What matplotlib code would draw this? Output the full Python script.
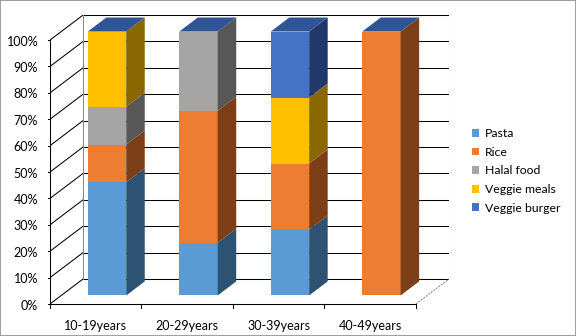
import numpy as np
from matplotlib import pyplot as plt
from matplotlib.patches import Polygon, Patch, Rectangle

# datos (porcentajes)
categorias = ['10-19years', '20-29years', '30-39years', '40-49years']
series = ['Pasta', 'Rice', 'Halal food', 'Veggie meals', 'Veggie burger']
pasta = [42.9, 20.0, 25.0, 0.0]
rice = [14.3, 50.0, 25.0, 100.0]
halal = [14.3, 30.0, 0.0, 0.0]
veggie_meals = [28.5, 0.0, 25.0, 0.0]
veggie_burger = [0.0, 0.0, 25.0, 0.0]
yticks = list(range(0, 101, 10))

color_frente = ['#5B9BD5', '#ED7D31', '#A5A5A5', '#FFC000', '#4472C4']
color_lado = ['#2E5273', '#7C3F17', '#575757', '#8A6700', '#20396A']
color_techo = '#2F5597'

# profundidad del "3D" en unidades de datos
D, DY = 0.362, 9.5
ANCHO = 0.42
F1, F2 = 0.34, 0.56   # posicion y profundidad de la barra dentro del piso

plt.rcParams['font.family'] = ['Lato', 'DejaVu Sans']
fig = plt.figure(figsize=(5.76, 3.36), dpi=100)
fig.patches.append(Rectangle((0, 0), 1, 1, transform=fig.transFigure,
                             fill=False, edgecolor='#8c8c8c', lw=1.2))
ax = fig.add_axes([50/576, 32/336, 399/576, 289/336])
ax.set_xlim(0, 4 + D)
ax.set_ylim(0, 100 + DY)
ax.axis('off')

n = len(categorias)
lw = 0.75
# pared del fondo
for v in yticks:
  ax.plot([D, n + D], [v + DY, v + DY], c='k', lw=lw, zorder=1)
  ax.plot([0, D], [v, v + DY], c='k', lw=lw, zorder=1)
  ax.plot([-0.025, 0], [v, v], c='k', lw=lw, clip_on=False)
  ax.text(-0.13, v - 0.6, f'{v}%', ha='right', va='center', fontsize=9)
ax.plot([0, 0], [0, 100], c='k', lw=lw, zorder=1)
ax.plot([D, D], [DY, 100 + DY], c='#888888', lw=lw, zorder=1)
ax.plot([n + D, n + D], [DY, 100 + DY], c='#888888', lw=lw, zorder=1)
ax.plot([n, n + D], [0, DY], c='#888888', lw=lw, ls=(0, (2, 1)), zorder=1)
ax.plot([0, n], [0, 0], c='k', lw=lw, zorder=1, clip_on=False)
for i in range(n + 1):
  ax.plot([i, i], [0, -1.6], c='k', lw=lw, clip_on=False)
for i, cat in enumerate(categorias):
  ax.text(i + 0.5, -8.5, cat, ha='center', va='center', fontsize=9)

# barras
datos = [pasta, rice, halal, veggie_meals, veggie_burger]
dx, dy = F2 * D, F2 * DY
for i in range(n):
  x0 = i + 0.5 - ANCHO / 2 + F1 * D
  x1 = x0 + ANCHO
  base = F1 * DY
  y = base
  for s, valores in enumerate(datos):
    h = valores[i]
    if h <= 0:
      continue
    ax.add_patch(Polygon([(x0, y), (x1, y), (x1, y + h), (x0, y + h)],
                         closed=True, fc=color_frente[s], ec='none', zorder=3))
    ax.add_patch(Polygon([(x1, y), (x1 + dx, y + dy), (x1 + dx, y + h + dy), (x1, y + h)],
                         closed=True, fc=color_lado[s], ec='none', zorder=3))
    y += h
  ax.add_patch(Polygon([(x0, y), (x1, y), (x1 + dx, y + dy), (x0 + dx, y + dy)],
                       closed=True, fc=color_techo, ec='none', zorder=3, clip_on=False))

handles = [Patch(fc=c, ec='none') for c in color_frente]
fig.legend(handles, series, loc='center left', bbox_to_anchor=(472/576, 1 - 171/336),
           frameon=False, fontsize=8.8, handlelength=0.6, handleheight=0.6,
           handletextpad=0.45, labelspacing=0.62, borderpad=0, borderaxespad=0)

fig.savefig('out.png', dpi=100)
